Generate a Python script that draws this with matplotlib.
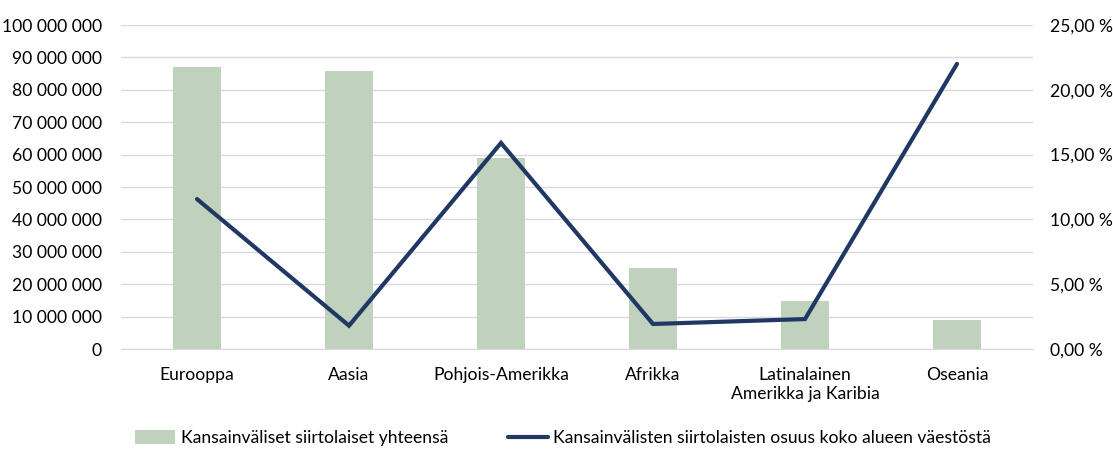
import matplotlib
matplotlib.use("Agg")
import matplotlib.pyplot as plt
from matplotlib.ticker import FuncFormatter, MultipleLocator
import numpy as np

categories = ["Eurooppa", "Aasia", "Pohjois-Amerikka", "Afrikka",
              "Latinalainen\nAmerikka ja Karibia", "Oseania"]
migrants_total = [87_000_000, 85_800_000, 58_900_000, 25_000_000, 14_900_000, 8_800_000]
share_pct = [11.57, 1.80, 15.90, 1.93, 2.31, 22.00]

bar_label = "Kansainväliset siirtolaiset yhteensä"
line_label = "Kansainvälisten siirtolaisten osuus koko alueen väestöstä"

plt.rcParams['font.family'] = ['Lato', 'DejaVu Sans']
FS = 12.6

fig = plt.figure(figsize=(11.13, 4.63), dpi=100)
L, R, T, B = 121, 1033, 25, 349
ax = fig.add_axes([L/1113, 1-B/463, (R-L)/1113, (B-T)/463])
ax2 = ax.twinx()

x = np.arange(len(categories))
bars = ax.bar(x, migrants_total, width=0.315, color="#c0d1bd", label=bar_label, zorder=2)
line, = ax2.plot(x, share_pct, color="#203864", lw=3.0, solid_capstyle="round",
                 solid_joinstyle="miter", label=line_label, zorder=3)

ax.set_xlim(-0.5, len(categories)-0.5)
ax.set_ylim(0, 100_000_000)
ax.yaxis.set_major_locator(MultipleLocator(10_000_000))
ax.yaxis.set_major_formatter(FuncFormatter(lambda v, p: f"{int(v):,}".replace(",", " ")))
ax2.set_ylim(0, 25)
ax2.yaxis.set_major_locator(MultipleLocator(5))
ax2.yaxis.set_major_formatter(FuncFormatter(lambda v, p: f"{v:.2f}".replace(".", ",") + " %"))

ax.grid(axis="y", color="#d9d9d9", lw=1.0, zorder=0)
ax.set_axisbelow(True)
for a in (ax, ax2):
    for s in a.spines.values():
        s.set_visible(False)
    a.tick_params(length=0, labelsize=FS, colors="#000000")
ax.spines["bottom"].set_visible(True)
ax.spines["bottom"].set_color("#d9d9d9")
ax.tick_params(axis="y", pad=13.7)
ax2.tick_params(axis="y", pad=12.2)
ax.set_xticks(x)
ax.set_xticklabels(categories, fontsize=FS, linespacing=1.25)
ax.tick_params(axis="x", pad=13)

fig.legend([bars, line], [bar_label, line_label], loc="center", ncol=2,
           bbox_to_anchor=(563/1113, 1-438/463), frameon=False, fontsize=FS,
           handlelength=2.3, handleheight=0.8, handletextpad=0.3, columnspacing=3.4)

fig.savefig("out.png", dpi=100, facecolor="white")
